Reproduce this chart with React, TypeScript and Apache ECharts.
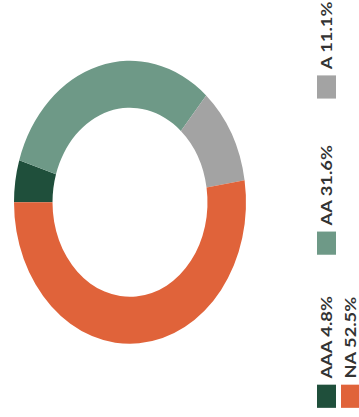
import React, { useEffect, useRef } from "react";
import * as echarts from "echarts";

const categories = ["AAA", "AA", "A", "NA"];
const shares = [4.8, 31.6, 11.1, 52.5];
const colors = ["#1f4f3b", "#6e9987", "#a3a3a3", "#e0633a"];

const STRETCH = 1.22;
const FULL_W = 359;
const FULL_H = 417;
const INNER_W = Math.round(FULL_H / STRETCH);
const INNER_H = FULL_W;

export default function App() {
  const ref = useRef<HTMLDivElement>(null);

  useEffect(() => {
    if (!ref.current) return;
    const chart = echarts.init(ref.current, undefined, { renderer: "svg" });
    const labels = categories.map((c, i) => `${c} ${shares[i].toFixed(1)}%`);
    const legendBase = {
      orient: "horizontal" as const,
      padding: 0,
      itemGap: 5,
      itemWidth: 19,
      itemHeight: 19,
      icon: "rect",
      selectedMode: false,
      formatter: (name: string) => labels[categories.indexOf(name)],
      textStyle: {
        fontFamily: "Lato",
        fontWeight: "bold" as const,
        fontSize: 15,
        color: "#333333",
      },
    };
    chart.setOption({
      animation: false,
      color: colors,
      legend: [
        { ...legendBase, left: 7.5, top: 317, data: ["AAA"] },
        { ...legendBase, left: 7.5, top: 341, data: ["NA"] },
        { ...legendBase, left: 133, top: 317, data: ["AA"] },
        { ...legendBase, left: 261, top: 317, data: ["A"] },
      ],
      series: [
        {
          type: "pie",
          center: [176, 130],
          radius: [77.5, 116],
          startAngle: 90,
          clockwise: true,
          label: { show: false },
          labelLine: { show: false },
          emphasis: { disabled: true },
          itemStyle: { borderWidth: 0 },
          data: categories.map((c, i) => ({ name: c, value: shares[i] })),
        },
      ],
    });
    return () => chart.dispose();
  }, []);

  return (
    <div
      style={{
        position: "absolute",
        left: 0,
        top: 0,
        width: FULL_W,
        height: FULL_H,
        overflow: "hidden",
        background: "#ffffff",
      }}
    >
      <div
        ref={ref}
        style={{
          position: "absolute",
          left: 0,
          top: 0,
          width: INNER_W,
          height: INNER_H,
          transformOrigin: "0 0",
          transform: `translate(0px, ${FULL_H}px) rotate(-90deg) scale(${STRETCH}, 1)`,
        }}
      />
    </div>
  );
}
